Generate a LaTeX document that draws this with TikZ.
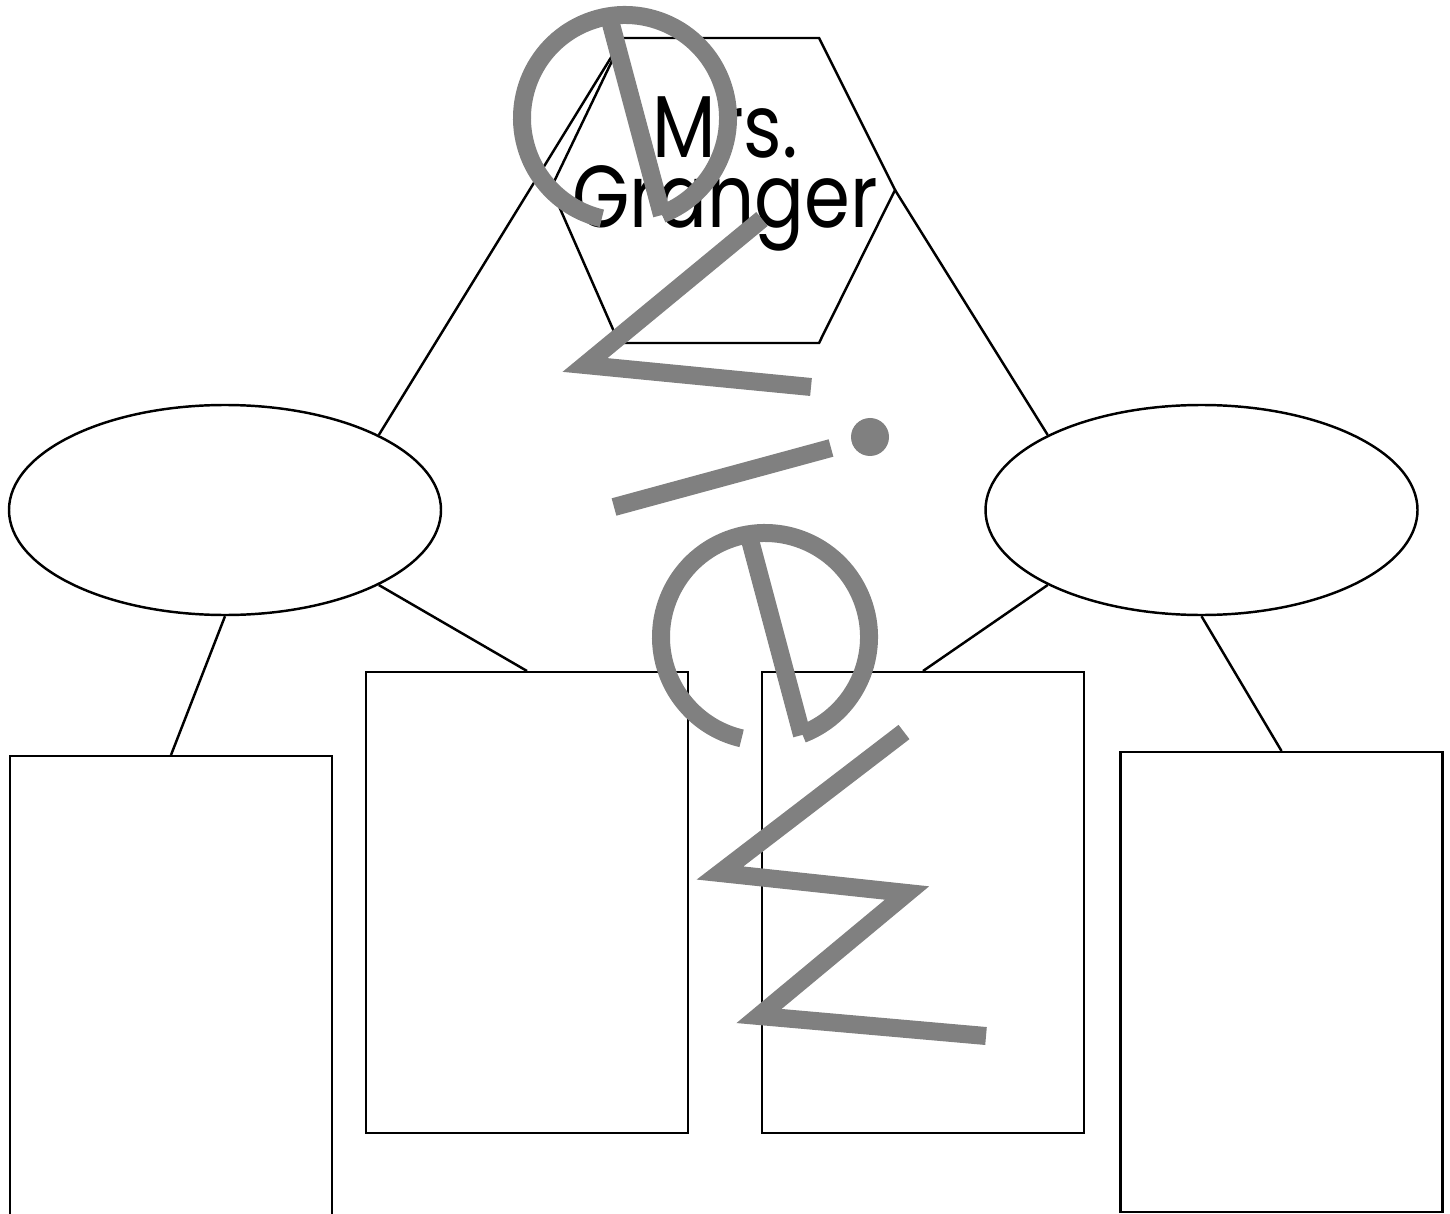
\documentclass[tikz,border=0pt]{standalone}
\usepackage{fontspec}
\usetikzlibrary{shapes.geometric}
\newfontfamily\labelfont{Poppins}[FakeStretch=0.84]
\definecolor{markgray}{RGB}{128,128,128}

\begin{document}
\begin{tikzpicture}[
  line width=0.7pt,
  bubble/.style={draw, ellipse, minimum width=4.32cm, minimum height=2.1cm, inner sep=0pt},
  notebox/.style={draw, rectangle, minimum width=3.22cm, inner sep=0pt, anchor=north},
  wmstroke/.style={draw=markgray, line width=0.18cm}
]
  \useasboundingbox (0,0) rectangle (14.5,-12.13);
  \clip (0,0) rectangle (14.5,-12.13);

  % hexagon at the top
  \coordinate (hx1) at (6.23,-0.38);
  \coordinate (hx2) at (8.19,-0.38);
  \coordinate (hx3) at (8.95,-1.90);
  \coordinate (hx4) at (8.19,-3.43);
  \coordinate (hx5) at (6.19,-3.43);
  \coordinate (hx6) at (5.51,-1.88);
  \draw (hx1) -- (hx2) -- (hx3) -- (hx4) -- (hx5) -- (hx6) -- cycle;
  \node[font=\labelfont\fontsize{25}{19.9}\selectfont, align=center, inner sep=0pt] (name) at (7.25,-1.74) {Mrs.\\Granger};

  % ovals
  \node[bubble] (lell) at (2.25,-5.10) {};
  \node[bubble] (rell) at (12.015,-5.10) {};

  % boxes
  \node[notebox, minimum height=4.85cm] (b1) at (1.71,-7.55) {};
  \node[notebox, minimum height=4.61cm] (b2) at (5.27,-6.71) {};
  \node[notebox, minimum height=4.61cm] (b3) at (9.23,-6.71) {};
  \node[notebox, minimum height=4.60cm] (b4) at (12.815,-7.51) {};

  % links
  \draw (lell.26) -- (hx1);
  \draw (rell.154) -- (hx3);
  \draw (lell.south) -- (b1.north);
  \draw (lell.-26) -- (b2.north);
  \draw (rell.206) -- (b3.north);
  \draw (rell.south) -- (b4.north);

  % watermark strokes
  \coordinate (e1c) at (6.25,-1.18);
  \coordinate (e2c) at (7.65,-6.37);
  \draw[wmstroke] (e1c) ++(-69:1.03) arc[start angle=-69, end angle=257, radius=1.03];
  \draw[wmstroke] (6.11,-0.24) -- (6.62,-2.15);
  \draw[wmstroke] (7.62,-2.19) -- (5.85,-3.65) -- (8.11,-3.87);
  \draw[wmstroke] (6.14,-5.07) -- (8.31,-4.48);
  \fill[markgray] (8.70,-4.37) circle (0.19);
  \draw[wmstroke] (e2c) ++(-69:1.04) arc[start angle=-69, end angle=257, radius=1.04];
  \draw[wmstroke] (7.50,-5.40) -- (8.02,-7.35);
  \draw[wmstroke] (9.04,-7.32) -- (7.20,-8.73) -- (9.07,-8.93) -- (7.59,-10.16) -- (9.86,-10.36);
\end{tikzpicture}
\end{document}
